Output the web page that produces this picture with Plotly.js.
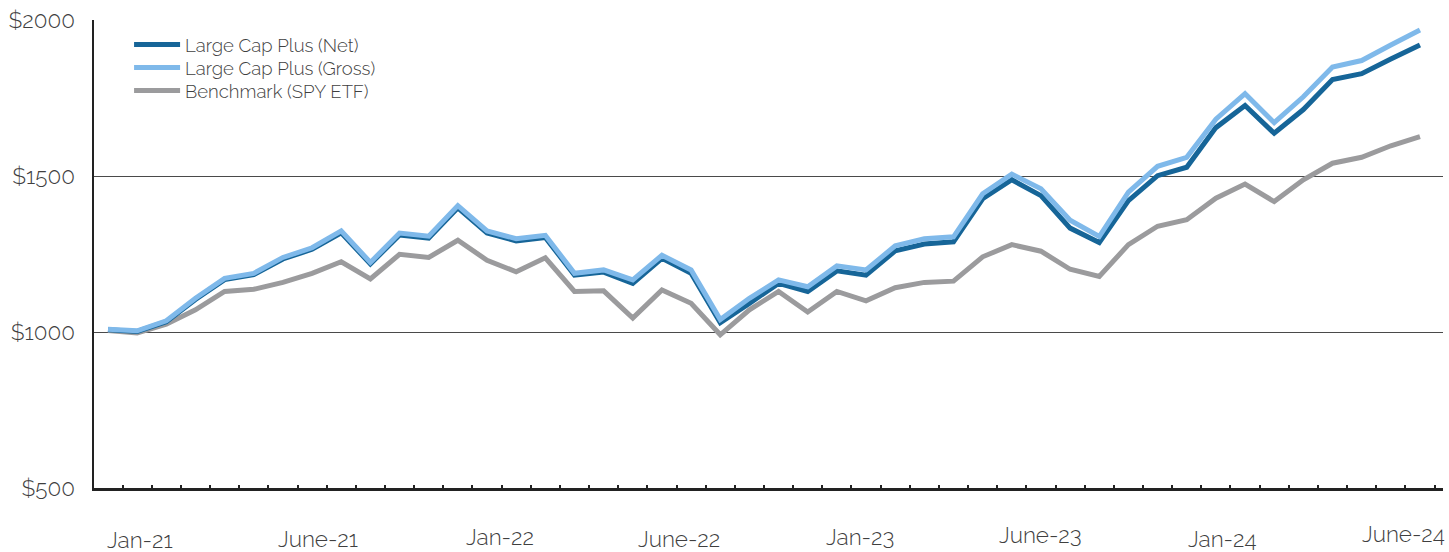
<!DOCTYPE html>
<html>
<head>
<meta charset="utf-8">
<script src="https://cdn.plot.ly/plotly-3.0.1.min.js"></script>
<style>
  html, body { margin: 0; padding: 0; background: #ffffff; }
  #chart { width: 1449px; height: 552px; }
</style>
</head>
<body>
<div id="chart"></div>
<script>
// Monthly growth of $1000 (46 monthly observations)
var netValues = [1007,1002,1033,1104,1168,1184,1234,1265,1318,1218,1311,1301,1398,1317,1292,1303,1182,1192,1156,1236,1188,1030,1092,1156,1130,1196,1182,1260,1282,1289,1427,1488,1437,1333,1287,1421,1501,1528,1655,1726,1637,1713,1809,1828,1875,1920];
var grossValues = [1009,1004,1036,1108,1172,1188,1239,1270,1324,1223,1317,1307,1405,1324,1299,1310,1188,1199,1167,1246,1199,1040,1108,1167,1145,1212,1199,1276,1299,1305,1443,1506,1459,1358,1306,1448,1531,1560,1682,1764,1671,1754,1849,1870,1920,1968];
var benchValues = [1005,997,1025,1071,1130,1137,1159,1188,1225,1170,1249,1239,1294,1230,1193,1238,1130,1132,1045,1135,1092,991,1071,1130,1064,1130,1100,1142,1159,1163,1241,1280,1259,1201,1178,1280,1339,1360,1429,1474,1418,1488,1541,1560,1597,1626];

var seriesNames = ["Large Cap Plus (Net)", "Large Cap Plus (Gross)", "Benchmark (SPY ETF)"];

var xLabels = ["Jan-21","June-21","Jan-22","June-22","Jan-23","June-23","Jan-24","June-24"];
var xLabelPos = [1.1, 7.2, 13.45, 19.6, 25.8, 32.0, 38.2, 44.45];
var xLabelShift = [-52, -51, -49, -51, -49, -47, -51, -46];

var yTickVals = [500, 1000, 1500, 2000];
var yTickText = yTickVals.map(function (v) { return "$" + v; });

var idx = netValues.map(function (_, i) { return i; });

var FONT = "Raleway, Lato, 'Open Sans', sans-serif";
var legFont = { family: FONT, size: 18.5, color: "#3f3f3f", weight: 300 };

var traces = [
  { x: idx, y: benchValues, name: seriesNames[2], type: "scatter", mode: "lines",
    line: { color: "#9b9b9d", width: 5 }, legend: "legend3" },
  { x: idx, y: netValues, name: seriesNames[0], type: "scatter", mode: "lines",
    line: { color: "#166598", width: 5 }, legend: "legend" },
  { x: idx, y: grossValues, name: seriesNames[1], type: "scatter", mode: "lines",
    line: { color: "#7fb9ea", width: 5 }, legend: "legend2" }
];

var annotations = xLabels.map(function (t, i) {
  return { text: t, x: xLabelPos[i], xref: "x", y: 0, yref: "paper",
    yshift: xLabelShift[i], showarrow: false, xanchor: "center", yanchor: "middle",
    font: { family: FONT, size: 22.5, color: "#3f3f3f", weight: 300 } };
});

function leg(yv) {
  return { x: 0.026, y: yv, xanchor: "left", yanchor: "middle",
    bgcolor: "rgba(0,0,0,0)", font: legFont, itemwidth: 46 };
}

var layout = {
  width: 1449, height: 552,
  margin: { l: 94, r: 6, t: 20, b: 64 },
  paper_bgcolor: "#ffffff", plot_bgcolor: "#ffffff",
  font: { family: FONT, color: "#3f3f3f", weight: 300 },
  showlegend: true,
  legend: leg(0.9466),
  legend2: leg(0.8974),
  legend3: leg(0.8483),
  xaxis: {
    range: [-0.48, 45.79], showgrid: false, zeroline: false,
    showline: true, linecolor: "#222222", linewidth: 2.5,
    tickmode: "linear", tick0: 0.5, dtick: 1, ticks: "inside", ticklen: 3,
    tickwidth: 2, tickcolor: "#222222", showticklabels: false, fixedrange: true
  },
  yaxis: {
    range: [500, 2000], tickmode: "array", tickvals: yTickVals, ticktext: yTickText,
    showgrid: true, gridcolor: "#4a4a4a", gridwidth: 1, zeroline: false,
    showline: true, linecolor: "#222222", linewidth: 2.5, ticks: "",
    ticklabelstandoff: 12,
    tickfont: { family: FONT, size: 22.5, color: "#3f3f3f", weight: 300 }, fixedrange: true
  },
  annotations: annotations
};

Plotly.newPlot("chart", traces, layout, { displayModeBar: false, staticPlot: true });
</script>
</body>
</html>
